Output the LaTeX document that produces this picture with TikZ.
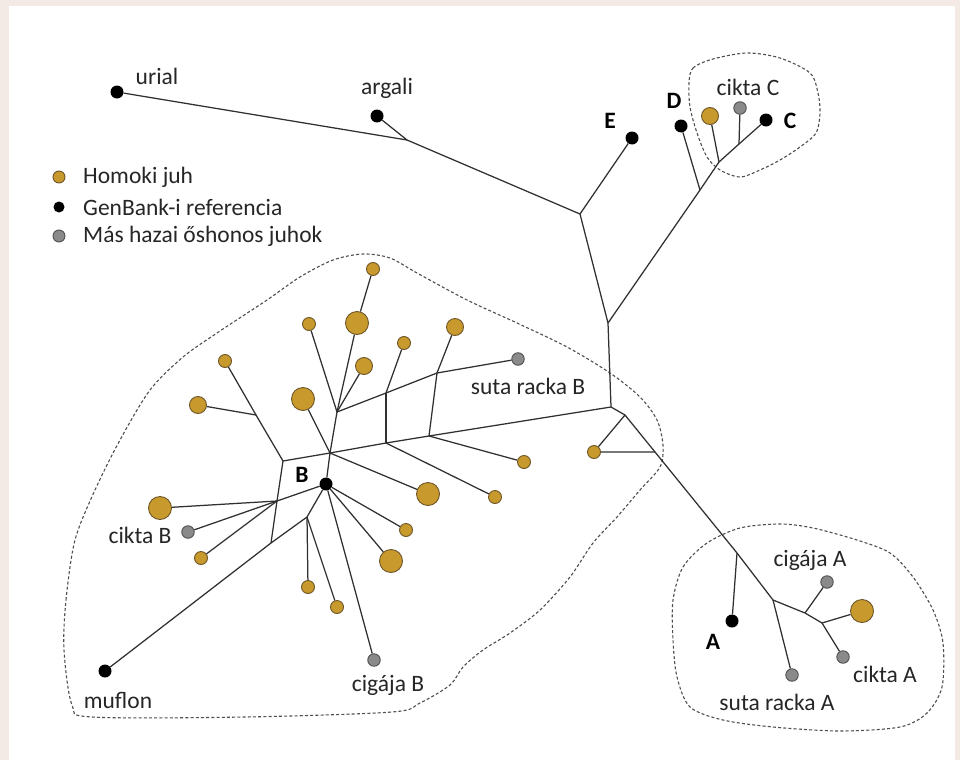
\documentclass[tikz,border=0pt]{standalone}
\usepackage{fontspec}
\setmainfont{Carlito}
\usepackage{tikz}
\definecolor{goldfill}{HTML}{C89A2E}
\definecolor{goldline}{HTML}{6E5626}
\definecolor{grayfill}{HTML}{8A8A8A}
\definecolor{grayline}{HTML}{505050}
\definecolor{edgecol}{HTML}{303030}
\definecolor{pinkbg}{HTML}{F4EAE5}

\begin{document}
\begin{tikzpicture}[x=1pt, y=-1pt,
    hdot/.style={circle, draw=goldline, fill=goldfill, line width=0.9pt, inner sep=0pt, minimum size=#1},
    hdot/.default=13pt,
    gdot/.style={circle, fill=black, inner sep=0pt, minimum size=13pt},
    odot/.style={circle, draw=grayline, fill=grayfill, line width=0.9pt, inner sep=0pt, minimum size=12.5pt},
    lab/.style={inner sep=0pt, text=black!85, font=\fontsize{23.5}{28}\selectfont},
    letter/.style={inner sep=0pt, font=\fontsize{23.5}{28}\selectfont\bfseries},
    stem/.style={draw=edgecol, line width=1.25pt},
    clade/.style={draw=edgecol!85, line width=1.1pt, dash pattern=on 3pt off 2.2pt}]
      \useasboundingbox (0,0) rectangle (960,760);
      \fill[pinkbg] (0,0) rectangle (960,760);
      \fill[white] (9,6) rectangle (955,760);

      % dashed groups
      \draw[clade] plot[smooth cycle] coordinates {(689,83) (693,68) (713,59) (747,53) (780,58) (810,73)
        (818,93) (820,113) (816,133) (800,147) (780,160) (760,170) (740,177) (720,170)
        (707,157) (697,133) (690,107)};
      \draw[clade] plot[smooth cycle] coordinates {(64,650) (66,600) (75,540) (95,490) (120,440)
        (150,390) (183,357) (217,333) (267,300) (300,277) (333,260) (363,254) (390,258)
        (417,273) (467,300) (517,323) (567,347) (610,373) (640,397) (657,420) (663,445)
        (660,467) (640,490) (617,517) (593,543) (570,577) (540,610) (510,633) (483,650)
        (463,667) (450,685) (420,703) (392,712) (245,717) (92,717) (72,705)};
      \draw[clade] plot[smooth cycle] coordinates {(673,600) (683,567) (707,543) (740,528) (780,524)
        (813,528) (857,540) (890,553) (913,577) (933,610) (943,643) (942,687) (927,713)
        (900,727) (840,731) (773,727) (723,720) (690,707) (677,677) (673,640)};

      % legend
      \node[hdot=12pt] (lg1) at (59,177) {};
      \node[gdot, minimum size=11pt] (lg2) at (59,207) {};
      \node[odot, minimum size=12pt] (lg3) at (59,236) {};
      \node[lab, anchor=west] (lt1) at (83,177) {Homoki juh};
      \node[lab, anchor=west] (lt2) at (83,207) {GenBank-i referencia};
      \node[lab, anchor=west] (lt3) at (83,236) {Más hazai őshonos juhok};

      % top part
      \node[gdot] (urial) at (117,92) {};
      \node[gdot] (argali) at (377,116) {};
      \node[gdot] (E) at (632,138) {};
      \node[gdot] (D) at (681,126) {};
      \node[hdot=17pt] (cC1) at (710,116) {};
      \node[odot] (cC2) at (740,108) {};
      \node[gdot] (C) at (766,120) {};
      \coordinate (j1) at (407,140);
      \coordinate (j2) at (580,214);
      \coordinate (j3) at (608,323);
      \coordinate (j4) at (700,190);
      \coordinate (j5) at (719,162);
      \coordinate (j6) at (739,144);
      \coordinate (j7) at (611,407);
      \coordinate (j8) at (625,415);
      \coordinate (j9) at (655,452);
      \coordinate (j10) at (737,553);
      \coordinate (j11) at (773,600);
      \coordinate (j12) at (805,613);
      \coordinate (j13) at (822,623);

      % A group
      \node[gdot] (A) at (732,621) {};
      \node[odot] (sA) at (792,675) {};
      \node[odot] (gA) at (827,582) {};
      \node[hdot=23pt] (hA) at (862,611) {};
      \node[odot] (cA) at (843,657) {};
      \node[hdot] (t1) at (594,452) {};

      % B group
      \coordinate (k1) at (283,461);
      \coordinate (k2) at (330,453);
      \coordinate (k3) at (386,443);
      \coordinate (k4) at (429,436);
      \coordinate (u1) at (337,412);
      \coordinate (u2) at (386,393);
      \coordinate (u3) at (437,373);
      \coordinate (v1) at (256,415);
      \coordinate (m1) at (277,501);
      \coordinate (m2) at (271,543);
      \coordinate (n1) at (307,517);
      \node[odot] (sB) at (518,359) {};
      \node[gdot] (B) at (326,484) {};
      \node[gdot] (muflon) at (105,671) {};
      \node[odot] (cB) at (188,532) {};
      \node[odot] (gB) at (374,660) {};
      \node[hdot] (h1) at (373,269) {};
      \node[hdot=23pt] (h2) at (357,323) {};
      \node[hdot] (h3) at (309,324) {};
      \node[hdot=17pt] (h4) at (364,366) {};
      \node[hdot] (h5) at (404,343) {};
      \node[hdot=17pt] (h6) at (455,327) {};
      \node[hdot] (h7) at (225,361) {};
      \node[hdot=17pt] (h8) at (198,405) {};
      \node[hdot=23pt] (h9) at (303,399) {};
      \node[hdot=23pt] (h10) at (428,494) {};
      \node[hdot] (h11) at (495,497) {};
      \node[hdot] (h12) at (524,462) {};
      \node[hdot=23pt] (h13) at (160,508) {};
      \node[hdot] (h14) at (201,558) {};
      \node[hdot] (h15) at (406,530) {};
      \node[hdot=23pt] (h16) at (391,561) {};
      \node[hdot] (h17) at (308,587) {};
      \node[hdot] (h18) at (337,607) {};

      \draw[stem] (urial) -- (j1) -- (j2) -- (j3) -- (j7);
      \draw[stem] (argali) -- (j1);
      \draw[stem] (E) -- (j2);
      \draw[stem] (j3) -- (j4) -- (j5) -- (j6) -- (C);
      \draw[stem] (D) -- (j4);
      \draw[stem] (cC1) -- (j5);
      \draw[stem] (cC2) -- (j6);
      \draw[stem] (k1) -- (k2) -- (k3) -- (k4) -- (j7) -- (j8) -- (j9) -- (j10) -- (j11) -- (j12) -- (j13);
      \draw[stem] (j8) -- (t1) -- (j9);
      \draw[stem] (j10) -- (A);
      \draw[stem] (j11) -- (sA);
      \draw[stem] (j12) -- (gA);
      \draw[stem] (j13) -- (hA);
      \draw[stem] (j13) -- (cA);
      \draw[stem] (k2) -- (u1) -- (u2) -- (u3) -- (sB);
      \draw[stem] (u1) -- (h3);
      \draw[stem] (u1) -- (h4);
      \draw[stem] (u1) -- (h2) -- (h1);
      \draw[stem] (u2) -- (h5);
      \draw[stem] (u2) -- (k3);
      \draw[stem] (u3) -- (h6);
      \draw[stem] (u3) -- (k4);
      \draw[stem] (k2) -- (h9);
      \draw[stem] (k2) -- (h10);
      \draw[stem] (k3) -- (h11);
      \draw[stem] (k4) -- (h12);
      \draw[stem] (k1) -- (v1) -- (h8);
      \draw[stem] (v1) -- (h7);
      \draw[stem] (k1) -- (m1) -- (m2);
      \draw[stem] (m1) -- (h13);
      \draw[stem] (m1) -- (cB);
      \draw[stem] (m1) -- (h14);
      \draw[stem] (m1) -- (B);
      \draw[stem] (k2) -- (B);
      \draw[stem] (B) -- (n1) -- (m2) -- (muflon);
      \draw[stem] (n1) -- (h17);
      \draw[stem] (n1) -- (h18);
      \draw[stem] (B) -- (gB);
      \draw[stem] (B) -- (h16);
      \draw[stem] (B) -- (h15);

      % labels
      \node[lab] (lurial) at (157,76) {urial};
      \node[lab] (largali) at (387,88) {argali};
      \node[letter] (lE) at (610,121) {E};
      \node[letter] (lD) at (674,101) {D};
      \node[lab] (lcC) at (748,87) {cikta C};
      \node[letter] (lC) at (790,121) {C};
      \node[lab] (lsB) at (528,386) {suta racka B};
      \node[letter] (lB) at (302,475) {B};
      \node[lab] (lcB) at (140,535) {cikta B};
      \node[lab] (lmuflon) at (118,700) {muflon};
      \node[lab] (lgB) at (388,685) {cigája B};
      \node[lab] (lgA) at (810,560) {cigája A};
      \node[letter] (lA) at (713,642) {A};
      \node[lab] (lsA) at (777,702) {suta racka A};
      \node[lab] (lcA) at (885,674) {cikta A};
    \end{tikzpicture}
\end{document}
